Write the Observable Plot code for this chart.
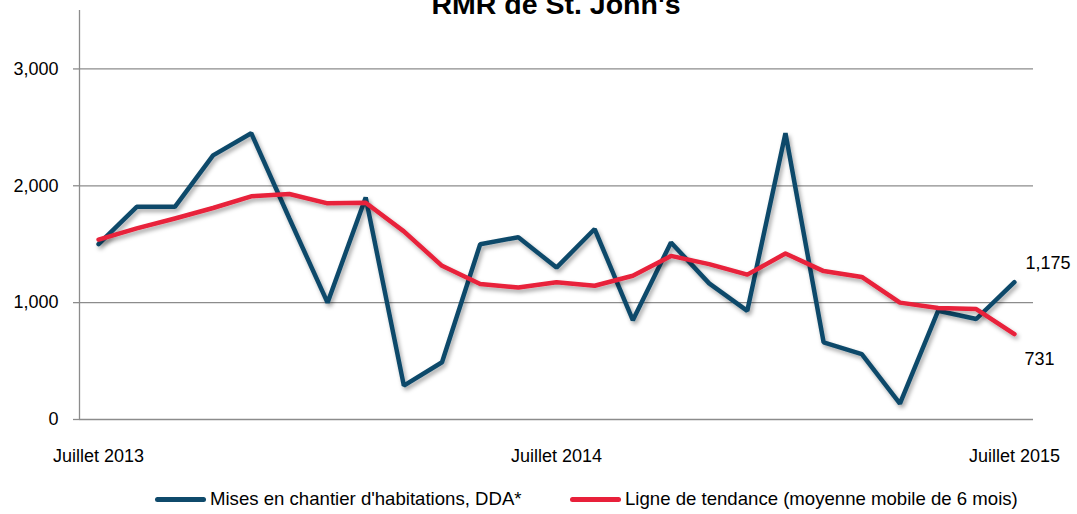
<!DOCTYPE html>
<html>
<head>
<meta charset="utf-8">
<script src="https://cdn.jsdelivr.net/npm/d3@7"></script>
<script src="https://cdn.jsdelivr.net/npm/@observablehq/plot@0.6"></script>
<style>
  html, body { margin: 0; padding: 0; background: #fff; }
  #wrap { position: relative; width: 1077px; height: 514px; overflow: hidden; font-family: "Liberation Sans", Arial, sans-serif; }
  #title { position: absolute; top: -10px; left: 556px; transform: translateX(-50%); font-weight: bold; font-size: 28.5px; line-height: 28px; white-space: nowrap; z-index: 2; color: #000; }
  .leg { position: absolute; top: 488px; display: flex; align-items: center; font-size: 18.6px; line-height: 22px; color: #000; white-space: nowrap; }
  .sw { width: 51px; height: 5px; border-radius: 3px; margin-right: 4px; }
</style>
</head>
<body>
<div id="wrap">
  <div id="title"></div>
  <div id="chart"></div>
  <div class="leg" id="leg1" style="left:155px"><div class="sw"></div><span></span></div>
  <div class="leg" id="leg2" style="left:570px"><div class="sw"></div><span></span></div>
</div>
<script>
// ---- data ----
const title = "RMR de St. John's";
const months = ["2013-07","2013-08","2013-09","2013-10","2013-11","2013-12",
  "2014-01","2014-02","2014-03","2014-04","2014-05","2014-06","2014-07","2014-08",
  "2014-09","2014-10","2014-11","2014-12","2015-01","2015-02","2015-03","2015-04",
  "2015-05","2015-06","2015-07"];
const starts = [1500, 1820, 1820, 2260, 2450, 1720, 1000, 1900, 290, 490, 1500, 1560,
  1300, 1630, 850, 1515, 1165, 930, 2450, 660, 560, 135, 930, 860, 1175];
const trend = [1540, 1635, 1720, 1810, 1910, 1930, 1850, 1855, 1610, 1315, 1160, 1130,
  1175, 1145, 1230, 1400, 1330, 1240, 1420, 1270, 1220, 1000, 955, 945, 731];
const seriesNames = ["Mises en chantier d'habitations, DDA*", "Ligne de tendance (moyenne mobile de 6 mois)"];
const seriesColors = ["#0F4A6B", "#E8203A"];
const xTickIdx = [0, 12, 24];
const xTickLabels = ["Juillet 2013", "Juillet 2014", "Juillet 2015"];
const yTicks = [0, 1000, 2000, 3000];
const endLabels = ["1,175", "731"];

// ---- build ----
const startsData = starts.map((v, i) => ({i, v, m: months[i]}));
const trendData = trend.map((v, i) => ({i, v, m: months[i]}));
const last = months.length - 1;

const chart = Plot.plot({
  width: 1077,
  height: 475,
  marginTop: 10,
  marginBottom: 56,
  marginLeft: 79,
  marginRight: 44,
  style: {fontFamily: "'Liberation Sans', Arial, sans-serif", fontSize: "18px", color: "#000", background: "transparent"},
  x: {type: "linear", domain: [-0.5, last + 0.5], ticks: xTickIdx,
      tickFormat: d => xTickLabels[xTickIdx.indexOf(d)], tickSize: 0, tickPadding: 30, label: null},
  y: {domain: [0, 3500], ticks: yTicks, tickFormat: d3.format(","), tickSize: 6, tickPadding: 15, label: null},
  marks: [
    Plot.ruleY(yTicks, {stroke: "#8c8c8c", strokeWidth: 1.3, strokeOpacity: 1}),
    Plot.ruleX([-0.5], {stroke: "#8c8c8c", strokeWidth: 1.3}),
    Plot.lineY(startsData, {x: "i", y: "v", stroke: seriesColors[0], strokeWidth: 4.5, strokeLinejoin: "miter"}),
    Plot.lineY(trendData, {x: "i", y: "v", stroke: seriesColors[1], strokeWidth: 4.5, strokeLinejoin: "round"}),
    Plot.text([{i: last, v: starts[last], t: endLabels[0]}], {x: "i", y: "v", text: "t", textAnchor: "start", dx: 11, dy: -19, fontSize: 18, fill: "#000"}),
    Plot.text([{i: last, v: trend[last], t: endLabels[1]}], {x: "i", y: "v", text: "t", textAnchor: "start", dx: 10, dy: 25, fontSize: 18, fill: "#000"})
  ]
});

const svg = d3.select(chart);
svg.style("overflow", "visible");
const defs = svg.insert("defs", ":first-child");
const f = defs.append("filter").attr("id", "shadow").attr("x", "-10%").attr("y", "-10%").attr("width", "120%").attr("height", "130%");
f.append("feDropShadow").attr("dx", 2).attr("dy", 3).attr("stdDeviation", 2).attr("flood-color", "#000").attr("flood-opacity", 0.35);
svg.selectAll("g[aria-label='line']").attr("filter", "url(#shadow)");
svg.selectAll("g[aria-label='y-axis tick'] path, g[aria-label='y-axis'] path").attr("stroke", "#8c8c8c").attr("stroke-width", 1.3);

document.getElementById("chart").appendChild(chart);
document.getElementById("title").textContent = title;
[["leg1", 0], ["leg2", 1]].forEach(([id, k]) => {
  const el = document.getElementById(id);
  el.querySelector(".sw").style.background = seriesColors[k];
  el.querySelector("span").textContent = seriesNames[k];
});
</script>
</body>
</html>
